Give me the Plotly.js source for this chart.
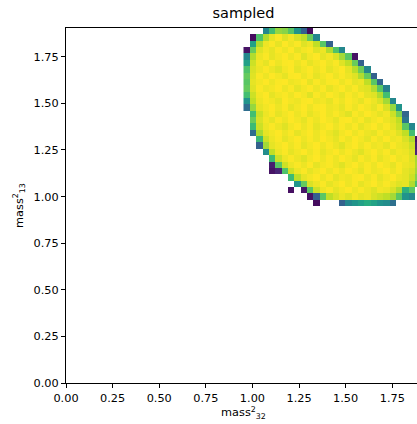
<!DOCTYPE html>
<html>
<head>
<meta charset="utf-8">
<script src="https://cdn.plot.ly/plotly-3.0.1.min.js"></script>
<style>
html,body{margin:0;padding:0;overflow:hidden;background:#fff;}
#chart{width:421px;height:424px;}
</style>
</head>
<body>
<div id="chart"></div>
<script>
// ---- chart text ----
const titleText = "sampled";
const xLabel = "mass<sup>2</sup><sub>32</sub>";
const yLabel = "mass<sup>2</sup><sub>13</sub>";

// ---- axis ticks ----
const tickValues = [0, 0.25, 0.5, 0.75, 1.0, 1.25, 1.5, 1.75];
const tickLabels = ["0.00", "0.25", "0.50", "0.75", "1.00", "1.25", "1.50", "1.75"];

// ---- histogram binning (56 bins from 0 to 1.904 on both axes) ----
const histMax = 1.904;
const nBins = 56;
const firstBin = 28;   // first bin index shown in the table below (both axes)

// ---- normalised counts, columns = mass32 bins 28..55, rows listed top (bin 55) to bottom (bin 28) ----
const n = null;
const counts = [
  [n,n,n,.45,.68,.82,.8,.72,.5,.3,.03,n,n,n,n,n,n,n,n,n,n,n,n,n,n,n,n,n],
  [n,.03,.7,.86,.94,.97,.93,.96,.92,.88,.75,.45,n,n,n,n,n,n,n,n,n,n,n,n,n,n,n,n],
  [n,.55,.86,.95,.97,.94,.98,.95,.97,.93,.95,.88,.72,.3,n,n,n,n,n,n,n,n,n,n,n,n,n,n],
  [.05,.75,.93,.96,.94,.97,.95,.98,.94,.96,.97,.93,.95,.86,.7,.45,n,n,n,n,n,n,n,n,n,n,n,n],
  [.45,.86,.95,.97,.94,.96,.98,.95,.97,.93,.96,.98,.94,.96,.92,.84,.72,.05,n,n,n,n,n,n,n,n,n,n],
  [.55,.9,.96,.94,.98,.95,.97,.99,.95,.97,.94,.96,.98,.95,.97,.93,.88,.75,.3,n,n,n,n,n,n,n,n,n],
  [.7,.92,.95,.97,.95,.93,.96,.98,.94,.96,.99,.95,.97,.94,.96,.98,.94,.87,.76,.45,n,n,n,n,n,n,n,n],
  [.74,.93,.97,.95,.98,.96,.94,.97,.99,.95,.97,.94,.96,.98,.95,.97,.95,.93,.86,.74,.3,n,n,n,n,n,n,n],
  [.72,.94,.96,.98,.95,.97,.99,.95,.96,.98,.94,.97,.95,.97,.99,.95,.97,.94,.95,.88,.72,.32,n,n,n,n,n,n],
  [.74,.93,.97,.95,.96,.98,.95,.97,.94,.96,.98,.95,.97,.94,.96,.98,.95,.97,.94,.93,.86,.72,.42,n,n,n,n,n],
  [.68,.9,.96,.98,.94,.96,.97,.95,.98,.96,.93,.97,.95,.98,.96,.94,.97,.95,.97,.94,.93,.86,.68,n,n,n,n,n],
  [.5,.88,.95,.97,.96,.94,.98,.96,.95,.97,.99,.95,.96,.94,.97,.95,.98,.96,.94,.97,.95,.92,.84,.45,n,n,n,n],
  [.35,.82,.94,.96,.98,.95,.97,.94,.96,.98,.95,.97,.99,.95,.96,.94,.97,.95,.98,.96,.94,.97,.92,.82,.5,n,n,n],
  [n,.68,.9,.95,.97,.94,.96,.98,.95,.97,.94,.96,.98,.95,.97,.95,.93,.97,.95,.98,.96,.94,.96,.9,.78,.32,n,n],
  [n,.75,.92,.96,.94,.97,.95,.98,.96,.94,.97,.95,.98,.96,.94,.97,.99,.95,.97,.94,.96,.98,.95,.93,.88,.38,n,n],
  [n,.66,.9,.95,.97,.95,.93,.96,.98,.95,.97,.94,.96,.98,.95,.97,.95,.97,.94,.96,.98,.95,.97,.94,.9,.72,.45,n],
  [n,.35,.85,.94,.96,.98,.95,.97,.94,.96,.98,.95,.97,.95,.93,.96,.98,.95,.97,.95,.94,.97,.95,.96,.93,.88,.68,n],
  [n,n,.66,.9,.95,.97,.94,.96,.98,.95,.97,.95,.98,.96,.94,.97,.95,.98,.96,.94,.97,.95,.98,.95,.96,.92,.86,.05],
  [n,n,.3,.84,.94,.96,.98,.95,.97,.94,.96,.98,.95,.97,.95,.93,.96,.98,.95,.97,.95,.96,.94,.97,.95,.94,.9,.08],
  [n,n,n,.47,.88,.95,.97,.94,.96,.98,.95,.97,.94,.96,.98,.95,.97,.95,.93,.96,.98,.95,.97,.94,.96,.95,.92,.1],
  [n,n,n,n,.66,.9,.95,.97,.95,.93,.96,.98,.95,.97,.95,.98,.96,.94,.97,.95,.97,.94,.96,.98,.95,.96,.93,.85],
  [n,n,n,n,.08,.72,.9,.95,.97,.95,.98,.94,.96,.97,.95,.93,.96,.98,.95,.97,.95,.98,.96,.94,.97,.95,.94,.86],
  [n,n,n,n,.05,.1,.7,.9,.95,.97,.94,.96,.98,.95,.97,.95,.98,.96,.94,.97,.95,.96,.98,.95,.97,.94,.92,.84],
  [n,n,n,n,n,n,n,.66,.88,.94,.96,.98,.95,.97,.94,.96,.95,.97,.99,.95,.97,.94,.96,.98,.95,.94,.9,.8],
  [n,n,n,n,n,n,n,n,.5,.74,.92,.95,.97,.94,.96,.98,.95,.97,.94,.96,.98,.95,.97,.95,.93,.94,.86,.7],
  [n,n,n,n,n,n,n,.04,n,.06,.72,.9,.95,.97,.94,.96,.98,.95,.97,.95,.93,.96,.95,.92,.86,.62,.72,n],
  [n,n,n,n,n,n,n,n,n,n,.05,.3,.72,.88,.92,.95,.93,.96,.94,.95,.92,.9,.88,.84,.72,.5,.45,n],
  [n,n,n,n,n,n,n,n,n,n,n,.03,n,n,n,.3,.45,.5,.55,.6,.56,.5,.47,.36,n,n,n,n]
];

// matplotlib viridis stops
const viridis = [
  [0.0,"#440154"],[0.1,"#482475"],[0.2,"#414487"],[0.3,"#355f8d"],[0.4,"#2a788e"],
  [0.5,"#21918c"],[0.6,"#22a884"],[0.7,"#44bf70"],[0.8,"#7ad151"],[0.9,"#bddf26"],[1.0,"#fde725"]
];

// bin edges for the shown part of the histogram
const edges = [];
for (let k = firstBin; k <= nBins; k++) edges.push(k * histMax / nBins);

const zRows = counts.slice().reverse(); // bottom bin first

const trace = {
  type: "heatmap",
  x: edges,
  y: edges,
  z: zRows,
  zmin: 0,
  zmax: 0.975,
  colorscale: viridis,
  showscale: false,
  hoverinfo: "skip"
};

const font = {family: "DejaVu Sans, sans-serif", color: "#000"};

const axisCommon = {
  range: [0, histMax],
  tickvals: tickValues,
  ticktext: tickLabels,
  ticks: "outside",
  ticklen: 4,
  tickwidth: 1,
  tickcolor: "#000",
  showline: true,
  linecolor: "#000",
  linewidth: 1,
  mirror: true,
  showgrid: false,
  zeroline: false,
  tickfont: Object.assign({size: 11.3}, font),
  fixedrange: true
};

const layout = {
  width: 421,
  height: 424,
  margin: {l: 66, r: 0, t: 28, b: 41},
  paper_bgcolor: "#fff",
  plot_bgcolor: "#fff",
  title: {text: titleText, font: Object.assign({size: 14.5}, font), x: 0.5, xref: "paper", xanchor: "center", y: 1 - 13/424, yref: "container", yanchor: "middle"},
  xaxis: Object.assign({}, axisCommon, {title: {text: xLabel, font: Object.assign({size: 11.3}, font), standoff: 2}}),
  yaxis: Object.assign({}, axisCommon, {title: {text: yLabel, font: Object.assign({size: 11.3}, font), standoff: 7}}),
  showlegend: false
};

Plotly.newPlot("chart", [trace], layout, {displayModeBar: false, staticPlot: true});
</script>
</body>
</html>
